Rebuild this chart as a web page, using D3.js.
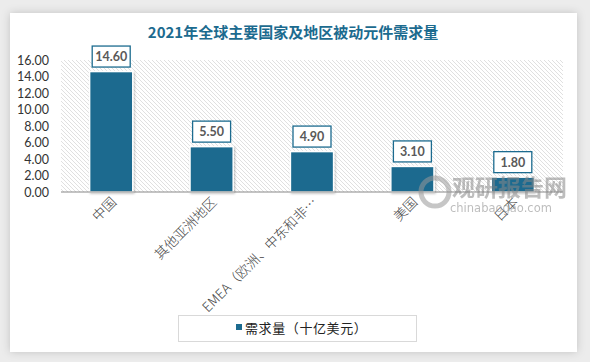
<!DOCTYPE html>
<html><head><meta charset="utf-8">
<script src="https://cdn.jsdelivr.net/npm/d3@7"></script>
<style>
html,body{margin:0;padding:0;background:#ececec;}
svg{display:block;}
</style></head>
<body>
<svg id="c" width="590" height="362"></svg>
<script>
const categories = ["中国","其他亚洲地区","EMEA（欧洲、中东和非…","美国","日本"];
const values = [14.60, 5.50, 4.90, 3.10, 1.80];
const yTicks = [0,2,4,6,8,10,12,14,16];
const title = "2021年全球主要国家及地区被动元件需求量";
const seriesName = "需求量（十亿美元）";

const svg = d3.select("#c");
const defs = svg.append("defs");
const f = defs.append("filter").attr("id","sh").attr("x","-10%").attr("y","-10%").attr("width","120%").attr("height","120%");
f.append("feDropShadow").attr("dx",0).attr("dy",0).attr("stdDeviation",4).attr("flood-color","#000").attr("flood-opacity",0.18);
const bs = defs.append("filter").attr("id","bs").attr("x","-20%").attr("y","-20%").attr("width","140%").attr("height","140%");
bs.append("feDropShadow").attr("dx",1).attr("dy",1).attr("stdDeviation",1.2).attr("flood-color","#000").attr("flood-opacity",0.25);
const pat = defs.append("pattern").attr("id","hatch").attr("patternUnits","userSpaceOnUse").attr("width",4).attr("height",4);
pat.append("rect").attr("width",4).attr("height",4).attr("fill","#ffffff");
pat.append("path").attr("d","M-1,-1 L5,5 M-1,3 L1,5 M3,-1 L5,1").attr("stroke","#d6d6d6").attr("stroke-width",0.75);

// card
svg.append("rect").attr("x",10).attr("y",13).attr("width",567).attr("height",339).attr("fill","#fff").attr("filter","url(#sh)");

const colour = "#1c6b8f";
const m = {l:61, r:563, t:60, b:192};
const x = d3.scaleBand().domain(categories).range([m.l,m.r]).paddingInner(0.57).paddingOuter(0.285);
const y = d3.scaleLinear().domain([0,16]).range([m.b,m.t]);

svg.append("rect").attr("x",m.l).attr("y",m.t).attr("width",m.r-m.l).attr("height",m.b-m.t).attr("fill","url(#hatch)");

svg.append("text").attr("x",293).attr("y",38).attr("text-anchor","middle")
  .attr("font-family","'Noto Sans CJK SC',sans-serif").attr("font-weight","bold").attr("font-size",15)
  .attr("fill",colour).text(title);

// y axis
const ya = svg.append("g").attr("transform",`translate(${m.l},0)`)
  .call(d3.axisLeft(y).tickValues(yTicks).tickFormat(d3.format(".2f")).tickSize(0).tickPadding(12));
ya.select(".domain").remove();
ya.selectAll("text").attr("font-family","Lato,'Open Sans',sans-serif").attr("font-size",12.5).attr("fill","#333");

// bars
svg.append("g").selectAll("rect").data(values).join("rect")
  .attr("x",(d,i)=>x(categories[i])).attr("y",d=>y(d))
  .attr("width",x.bandwidth()).attr("height",d=>y(0)-y(d))
  .attr("fill",colour).attr("stroke","#fff").attr("stroke-width",1.5).attr("filter","url(#bs)");

// x axis
const xa = svg.append("g").attr("transform",`translate(0,${m.b})`)
  .call(d3.axisBottom(x).tickSize(0).tickPadding(0));
xa.select(".domain").attr("stroke","#888").attr("stroke-width",1.2).attr("d",`M${m.l},0H${m.r}`);
xa.selectAll("text").attr("font-family","'Noto Sans CJK SC',serif").attr("font-weight",300).attr("font-size",13.5).attr("fill","#444")
  .attr("text-anchor","end").attr("dy",0).attr("transform","translate(6,11) rotate(-45)");

// labels
const lg = svg.append("g").selectAll("g").data(values).join("g")
  .attr("transform",(d,i)=>`translate(${x(categories[i])+x.bandwidth()/2},${y(d)-15})`);
lg.append("rect").attr("x",-19).attr("y",-10.5).attr("width",38).attr("height",21)
  .attr("fill","#fff").attr("stroke",colour).attr("stroke-width",1.3);
lg.append("text").attr("text-anchor","middle").attr("dy","0.36em")
  .attr("font-family","Lato,'Open Sans',sans-serif").attr("font-weight","bold").attr("font-size",12.5)
  .attr("fill","#595959").text(d=>d3.format(".2f")(d));

// watermark
const wm = svg.append("g").attr("opacity",0.55);
wm.append("circle").attr("cx",435).attr("cy",192).attr("r",14).attr("fill","none").attr("stroke","#999").attr("stroke-width",5);
wm.append("text").attr("x",452).attr("y",196).attr("font-family","'Noto Sans CJK SC',sans-serif").attr("font-weight","bold")
  .attr("font-size",23).attr("fill","#888").text("观研报告网");
wm.append("text").attr("x",450).attr("y",212).attr("font-family","'DejaVu Sans',sans-serif")
  .attr("font-size",11.5).attr("fill","#888").text("chinabaogao.com");

// legend
const leg = svg.append("g");
leg.append("rect").attr("x",178.5).attr("y",315.5).attr("width",238).attr("height",26).attr("fill","#fff").attr("stroke","#d9d9d9").attr("stroke-width",1);
leg.append("rect").attr("x",236).attr("y",324).attr("width",6).attr("height",6).attr("fill",colour);
leg.append("text").attr("x",245).attr("y",333).attr("font-family","'Noto Sans CJK SC',sans-serif").attr("font-size",13)
  .attr("letter-spacing",0.6).attr("fill","#222").text(seriesName);
</script>
</body></html>
